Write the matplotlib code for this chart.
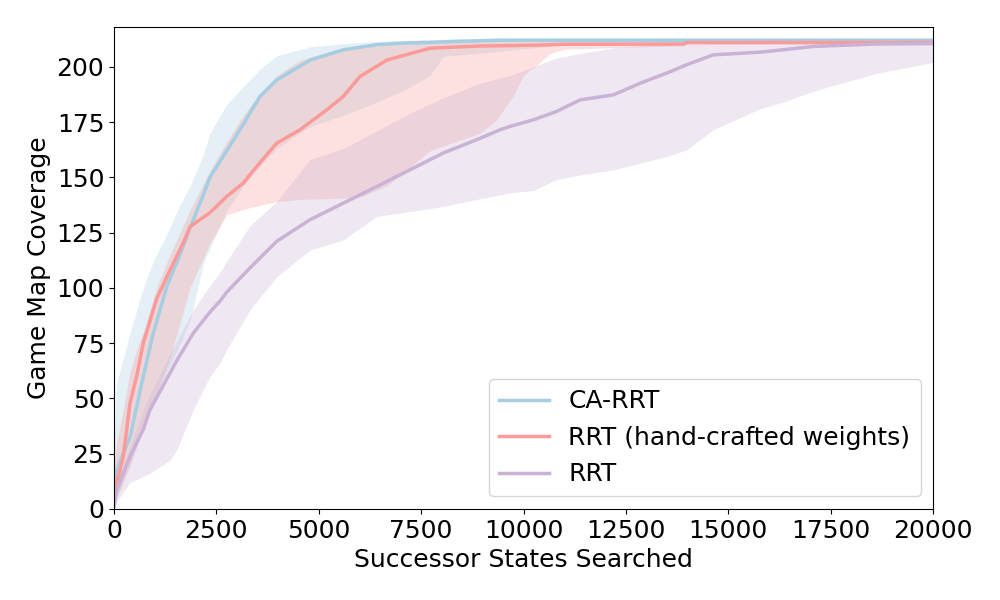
import numpy as np
import matplotlib
matplotlib.use("Agg")
import matplotlib.pyplot as plt

LABELS = ["CA-RRT", "RRT (hand-crafted weights)", "RRT"]
COLORS = ["#a6cee3", "#fb9a99", "#cab2d6"]

# CA-RRT
ca_x = [0, 65, 400, 716, 960, 1290, 1600, 1856, 2200, 2344, 2752, 3158, 3565,
        3972, 4786, 5600, 6415, 7147, 7716, 8041, 9426, 11000, 14000, 20000]
ca_mean = [8, 17.6, 33, 60, 79.5, 100.6, 114.5, 127, 143, 150, 162, 174, 186.6,
           194, 203, 207.7, 210, 210.8, 211, 211.3, 212, 212, 212, 212]
ca_upper = [30, 57, 80, 100, 112, 124, 137, 146, 161, 170, 183, 191, 199,
            205, 209, 210.5, 211.5, 212, 212.3, 212.5, 213, 213, 213, 213]
ca_lower = [2, 6, 20, 38, 48, 62, 74, 85, 112, 118, 135, 146, 155,
            163, 173, 178, 184, 190, 196, 204.7, 207, 210, 211, 211]

# RRT with hand-crafted weights
hw_x = [0, 65, 228, 391, 554, 716, 1042, 1368, 1734, 1856, 2344, 2752, 3158,
        3484, 3972, 4542, 5193, 5600, 6007, 6659, 7716, 8938, 9345, 9752, 9995,
        10403, 10647, 11000, 13900, 14000, 20000]
hw_mean = [10, 11.6, 23.7, 47.8, 60, 75, 95, 108, 122, 127.7, 134, 141.3,
           147.4, 154.9, 165.4, 171.5, 180.5, 186.6, 195.6, 203, 208.4, 209.4,
           209.5, 209.6, 209.7, 209.8, 210, 210.2, 210.3, 211, 211]
hw_upper = [20, 30, 45, 62, 72, 80, 100, 115, 130, 135, 153, 166, 178, 186,
            196, 203, 206.5, 208, 209, 210.2, 211, 211.5, 211.5, 211.5, 211.5,
            211.5, 211.5, 211.6, 211.8, 212, 212]
hw_lower = [2, 5, 12, 20, 28, 36, 52, 68, 92, 100, 120, 133, 135.5, 137, 139,
            140, 140.3, 140.6, 141, 146, 162, 170, 176, 187, 196, 202, 206,
            208, 209.5, 210, 210.5]

# plain RRT
rrt_x = [0, 65, 391, 716, 879, 1368, 1531, 1937, 2344, 2589, 2752, 3321, 3972,
         4786, 5600, 6415, 7228, 8041, 8857, 9426, 9670, 10240, 10810, 11380,
         12194, 12853, 13504, 13980, 14636, 15775, 16345, 17077, 18625, 20000]
rrt_mean = [1, 8.6, 23.7, 36, 44.8, 61.4, 67, 79.5, 89, 94, 98, 109, 121,
            130.8, 138.3, 145.8, 153.4, 161, 167, 171.5, 173, 176, 179.8, 185,
            187.3, 192.6, 197.2, 200.9, 205.4, 206.6, 207.7, 209.2, 210.3, 210.5]
rrt_upper = [4, 12, 28, 45, 52, 70, 76, 90, 101, 107, 112, 128, 139, 158, 163,
             171, 179, 186, 192, 195, 196, 200, 204, 206, 208.5, 209.5, 210,
             210, 210.5, 210.5, 210.5, 211, 211, 211]
rrt_lower = [0, 3, 12, 14.6, 16, 22, 26.7, 44.8, 59.9, 66, 72, 90, 105, 117,
             121.7, 132.3, 134.5, 136.8, 140, 142, 143, 144, 149, 151, 153.4,
             156.4, 159.4, 162.4, 171.5, 181, 184, 189, 197, 202]

series = [
    (ca_x, ca_mean, ca_lower, ca_upper),
    (hw_x, hw_mean, hw_lower, hw_upper),
    (rrt_x, rrt_mean, rrt_lower, rrt_upper),
]


def main() -> None:
    plt.rcParams["font.size"] = 18
    fig, ax = plt.subplots(figsize=(10, 6), dpi=100)
    fig.subplots_adjust(left=0.114, right=0.933, top=0.955, bottom=0.152)

    for (x, mean, lower, upper), color in zip(series, COLORS):
        ax.fill_between(x, lower, upper, color=color, alpha=0.3, linewidth=0)
    for (x, mean, lower, upper), color, label in zip(series, COLORS, LABELS):
        ax.plot(x, mean, color=color, linewidth=2.5, label=label)

    ax.set_xlim(0, 20000)
    ax.set_ylim(0, 218)
    ax.set_xticks(np.arange(0, 20001, 2500))
    ax.set_xlabel("Successor States Searched")
    ax.set_ylabel("Game Map Coverage")
    ax.legend(loc="lower right")

    fig.savefig("out.png", dpi=100)


if __name__ == "__main__":
    main()
